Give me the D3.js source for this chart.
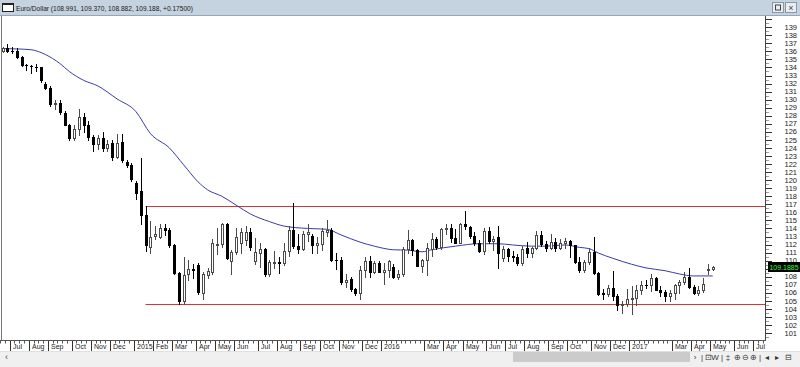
<!DOCTYPE html>
<html><head><meta charset="utf-8">
<script src="https://cdn.jsdelivr.net/npm/d3@7"></script>
<style>
body{margin:0;background:#fff;}
svg{display:block;font-family:"Liberation Sans",Arial,sans-serif;-webkit-font-smoothing:antialiased;}
</style>
</head><body>
<svg id="c" width="800" height="367"></svg>
<script>
// ---------- DATA ----------
const chartTitle = "Euro/Dollar (108.991, 109.370, 108.882, 109.188, +0.17500)";
const firstWeek = "2014-06-23";           // Monday of first weekly bar
const lastAxisDate = "2017-07-31";
const openVals = [136.05,136.45,136.10,136.05,135.35,134.30,134.20,134.10,134.00,132.00,
131.50,129.50,129.60,128.40,126.85,125.20,126.35,127.80,126.90,125.30,
124.55,125.25,123.95,124.60,122.90,124.70,122.30,121.90,119.60,118.60,
115.65,111.70,113.10,113.00,114.00,113.85,111.95,108.45,104.95,108.30,
108.95,109.50,106.00,108.25,108.60,111.90,112.10,114.55,109.90,111.10,
112.15,112.60,113.50,109.90,110.90,111.50,108.40,109.85,109.80,109.65,
111.20,113.85,111.80,111.50,113.30,113.10,111.95,112.10,113.55,113.85,
110.10,110.05,107.40,107.70,106.45,105.95,108.80,109.95,108.65,109.70,
108.60,108.80,109.20,108.00,108.30,111.40,112.60,111.30,109.35,110.05,
111.50,112.65,111.70,113.90,114.00,112.85,112.25,114.60,114.20,113.05,
112.25,111.25,113.65,112.50,113.00,110.35,111.40,110.55,110.45,109.75,
111.55,110.90,111.60,113.20,112.05,111.55,112.35,111.55,112.25,112.40,
112.00,109.85,108.85,109.85,111.10,108.45,105.95,105.90,106.55,105.55,
104.55,104.60,105.20,105.30,106.40,107.00,106.95,107.80,106.40,106.15,
105.60,106.00,106.95,107.35,108.00,106.75,105.95,106.40,108.85,108.991];
const highVals = [136.60,136.95,136.55,136.45,135.45,134.45,134.35,134.45,134.10,132.20,
131.70,130.00,130.00,128.60,127.00,126.90,128.85,128.30,127.30,125.60,
125.55,126.00,125.00,125.00,125.70,125.70,122.50,122.10,119.90,122.70,
116.80,114.90,114.30,114.60,114.50,114.10,112.10,108.65,110.40,110.05,
109.60,109.70,108.55,109.10,112.65,114.00,114.70,114.70,111.30,114.00,
114.10,114.35,114.10,112.80,112.15,111.55,110.05,111.25,110.40,112.15,
114.30,117.15,113.30,113.70,114.60,113.30,112.90,114.05,115.00,114.00,
110.90,110.50,108.30,108.00,106.60,109.30,110.45,110.60,110.00,110.00,
109.70,110.05,109.60,108.80,111.70,113.75,112.70,111.45,110.20,112.20,
113.40,112.95,114.10,114.60,114.50,113.95,114.65,116.15,114.30,113.50,
112.55,114.00,114.15,113.05,114.25,111.80,111.55,111.20,110.85,111.85,
112.30,111.70,113.65,113.70,112.50,113.25,112.80,112.75,112.80,112.55,
112.00,110.40,110.10,111.55,113.00,108.60,106.50,107.00,108.75,105.90,
105.00,106.50,106.85,107.00,107.50,107.55,108.30,107.95,106.90,106.35,
106.30,107.15,107.60,108.55,109.05,107.00,106.80,107.85,109.55,109.370];
const lowVals = [135.90,135.95,135.75,135.15,134.20,133.65,133.35,133.60,132.20,131.35,
129.20,128.90,128.20,126.85,125.00,125.00,125.60,126.00,124.95,123.65,
123.90,123.60,123.60,122.50,122.70,122.20,121.65,119.95,117.60,114.60,
111.15,111.00,112.70,112.80,113.20,111.75,108.40,104.60,104.60,107.60,
107.90,105.80,105.25,107.80,108.40,110.80,111.75,110.25,108.35,110.80,
111.00,111.90,111.35,109.55,109.15,108.10,108.15,109.10,108.50,109.50,
110.60,111.60,110.90,111.30,112.50,110.90,110.95,111.30,113.10,109.95,
109.00,107.10,106.75,106.20,105.70,105.25,108.00,108.00,108.50,108.55,
107.10,108.00,107.80,107.75,108.10,110.95,110.65,109.30,108.55,108.25,
110.60,111.45,111.45,113.30,112.35,112.15,112.15,113.90,112.85,112.00,
111.05,110.85,112.20,111.30,109.10,109.90,109.95,110.00,109.50,109.50,
110.45,110.45,111.50,111.85,111.25,111.45,111.20,111.50,111.60,110.45,
109.65,108.60,108.55,109.60,108.40,105.70,105.20,105.65,105.10,103.85,
103.50,104.40,103.40,104.55,105.90,106.60,106.20,106.35,105.60,104.95,
104.95,105.25,106.00,107.05,106.55,105.80,105.70,106.05,108.35,108.882];
const closeVals = [136.45,136.10,136.05,135.30,134.35,134.25,134.15,134.00,132.45,131.45,
129.50,129.60,128.45,126.90,125.20,126.30,127.85,126.90,125.30,124.55,
125.25,123.95,124.55,122.90,124.60,122.50,121.90,120.10,118.45,115.65,
112.00,113.00,113.30,114.00,113.85,111.95,108.45,104.95,108.25,108.95,
108.80,106.05,108.30,108.70,112.15,112.10,114.55,110.30,111.10,113.00,
113.60,113.50,111.65,111.10,111.50,108.40,109.85,109.85,109.70,111.20,
113.85,111.80,111.50,113.35,113.60,111.95,112.15,113.65,113.85,110.10,
110.05,107.40,107.65,106.45,105.95,108.80,109.95,108.65,109.70,108.60,
108.90,109.90,107.95,108.30,111.40,112.60,111.30,109.35,110.10,111.55,
112.65,111.70,113.90,114.00,112.85,112.25,114.55,114.25,113.05,112.25,
111.25,113.65,112.50,112.75,110.95,111.40,110.60,110.45,109.75,111.50,
110.90,111.60,113.20,112.05,111.55,112.35,111.55,112.25,112.40,112.00,
109.85,108.85,109.85,111.10,108.45,105.90,105.90,106.55,105.55,104.55,
104.60,105.20,105.30,106.40,107.00,106.95,107.80,106.40,106.15,105.60,
106.00,106.95,107.35,108.00,106.75,105.95,106.35,107.15,108.99,109.188];
// moving average (blue) read at these bar indices
const maIndex  = [0,3,6,9,12,14,17,20,24,28,31,35,38,41,43,46,49,52,56,59,64,68,71,75,78,82,85,88,90,95,100,104,107,111,114,118,121,123,125,128,132,135,139,142,145,149];
const maValues = [136.35,136.3,136.2,135.6,134.5,133.5,132.4,131.7,130.1,128.5,125.8,124.0,121.9,119.8,118.8,118.0,116.9,115.8,114.85,114.3,114.0,113.9,113.2,112.3,111.8,111.35,111.3,111.1,111.35,111.8,112.1,112.1,111.95,111.8,111.8,111.95,111.65,111.5,110.95,110.3,109.55,109.1,108.75,108.35,108.1,108.1];
// horizontal support / resistance lines
const levelValues = [116.72, 104.66];
const levelStartIndex = 30;
const lastPriceLabel = "109.1885";
const lastPrice = 109.1885;
// axes: labelled price ticks (109 sits under the last-price marker)
const yTickValues = d3.range(101, 140).filter(v => v !== 109);
const monthTickMonths = ["2014-07","2014-08","2014-09","2014-10","2014-11","2014-12","2015-01","2015-02","2015-03","2015-04","2015-05","2015-06","2015-07","2015-08","2015-09","2015-10","2015-11","2015-12","2016-01","2016-03","2016-04","2016-05","2016-06","2016-07","2016-08","2016-09","2016-10","2016-11","2016-12","2017-01","2017-03","2017-04","2017-05","2017-06","2017-07"];
const monthTickLabels = ["Jul","Aug","Sep","Oct","Nov","Dec","2015","Feb","Mar","Apr","May","Jun","Jul","Aug","Sep","Oct","Nov","Dec","2016","Mar","Apr","May","Jun","Jul","Aug","Sep","Oct","Nov","Dec","2017","Mar","Apr","May","Jun","Jul"];

// ---------- SCALES ----------
const parse = d3.utcParse("%Y-%m-%d");
const t0 = parse(firstWeek);
const weeks = d3.utcMonday.range(t0, d3.utcMonday.offset(t0, openVals.length));
const x = d3.scaleUtc().domain([t0, parse(lastAxisDate)]).range([0.2, 772.3]);
const y = d3.scaleLinear().domain([100, 140]).range([341.15, 19.15]);
const cx = d => x(d3.utcHour.offset(d, 84));   // centre of weekly bar

const data = weeks.map((d, i) => ({d, o: openVals[i], h: highVals[i], l: lowVals[i], c: closeVals[i]}));

const svg = d3.select("#c");
svg.append("rect").attr("width", 800).attr("height", 367).attr("fill", "#fff");

// ---------- TITLE BAR ----------
svg.append("rect").attr("x",0).attr("y",0).attr("width",800).attr("height",15).attr("fill","#c5d2df");
svg.append("line").attr("x1",0).attr("x2",800).attr("y1",15.5).attr("y2",15.5).attr("stroke","#97a6b6");
svg.append("rect").attr("x",2.5).attr("y",3.5).attr("width",11).attr("height",8).attr("fill","#fff").attr("stroke","#222");
svg.append("rect").attr("x",2.5).attr("y",3.5).attr("width",11).attr("height",1.5).attr("fill","#222");
svg.append("text").attr("x",16).attr("y",10.5).attr("font-size",7).attr("fill","#1a1a1a")
  .attr("textLength",177).attr("lengthAdjust","spacingAndGlyphs").text(chartTitle);
[772.5, 785.5].forEach((bx, k) => {
  svg.append("rect").attr("x",bx).attr("y",2.5).attr("width",11).attr("height",10).attr("fill","#e9edf1").attr("stroke","#8b97a5");
  if (k === 0) svg.append("rect").attr("x",bx+3).attr("y",5).attr("width",5).attr("height",5).attr("fill","none").attr("stroke","#444");
  else svg.append("text").attr("x",bx+5.5).attr("y",10.5).attr("text-anchor","middle").attr("font-size",9).attr("fill","#444").text("×");
});

// ---------- PLOT ----------
svg.append("defs").append("clipPath").attr("id","plotclip")
  .append("rect").attr("x",2).attr("y",16).attr("width",763).attr("height",324);
const plot = svg.append("g").attr("clip-path","url(#plotclip)");

// resistance / support lines
levelValues.forEach(v => {
  const yy = Math.round(y(v) / 2) * 2 + 0.5;
  plot.append("line").attr("x1", cx(weeks[levelStartIndex])).attr("x2", 765)
    .attr("y1", yy).attr("y2", yy)
    .attr("stroke", "#e03030").attr("stroke-width", 1);
});

// moving average
const maLine = d3.line().x((v, i) => cx(weeks[maIndex[i]])).y(v => y(v)).curve(d3.curveMonotoneX);
plot.append("path").attr("d", maLine(maValues)).attr("fill","none").attr("stroke","#3a3aa8").attr("stroke-width",1);

// candles
const cg = plot.append("g");
data.forEach(k => {
  const px = Math.round(cx(k.d));
  const up = k.c >= k.o;
  const col = up ? "#4a4a4a" : "#000";
  cg.append("line").attr("x1", px + 0.5).attr("x2", px + 0.5)
    .attr("y1", Math.round(y(k.h))).attr("y2", Math.round(y(k.l)) + 1)
    .attr("stroke", col).attr("stroke-width", 1);
  const top = Math.round(y(Math.max(k.o, k.c)));
  const bot = Math.round(y(Math.min(k.o, k.c)));
  if (up) {
    const hgt = Math.max(1, bot - top);
    cg.append("rect").attr("x", px - 0.5).attr("y", top + 0.5).attr("width", 2).attr("height", hgt)
      .attr("fill", "#fff").attr("stroke", col).attr("stroke-width", 1);
  } else {
    cg.append("rect").attr("x", px - 1).attr("y", top).attr("width", 3).attr("height", Math.max(1, bot - top + 1))
      .attr("fill", "#000");
  }
});

// left border
svg.append("line").attr("x1",1.5).attr("x2",1.5).attr("y1",16).attr("y2",341).attr("stroke","#777");

// ---------- RIGHT AXIS ----------
svg.append("line").attr("x1",765.5).attr("x2",765.5).attr("y1",16).attr("y2",341).attr("stroke","#444");
const ya = svg.append("g");
d3.range(100.5, 140.5, 1).forEach(v => {
  const yy = Math.round(y(v)) + 0.5;
  ya.append("line").attr("x1",766).attr("x2",769).attr("y1",yy).attr("y2",yy).attr("stroke","#999");
});
d3.range(101, 141).forEach(v => {
  const yy = Math.round(y(v)) + 0.5;
  ya.append("line").attr("x1",766).attr("x2",772).attr("y1",yy).attr("y2",yy).attr("stroke","#333");
});
yTickValues.forEach(v => {
  ya.append("text").attr("x",797).attr("y",y(v)+2.6).attr("text-anchor","end")
    .attr("font-size",7.5).attr("fill","#222").text(v);
});
// last price marker (covers lower part of the 110 label, as in the original)
svg.append("rect").attr("x",768).attr("y",262).attr("width",32).attr("height",10).attr("fill","#000");
svg.append("text").attr("x",784).attr("y",270).attr("text-anchor","middle").attr("font-size",7)
  .attr("fill","#39ff39").text(lastPriceLabel);

// ---------- BOTTOM AXIS ----------
svg.append("line").attr("x1",0).attr("x2",766).attr("y1",340.5).attr("y2",340.5).attr("stroke","#555");
const xa = svg.append("g");
const allMondays = d3.utcMonday.range(t0, parse(lastAxisDate));
allMondays.forEach(d => {
  const xx = Math.round(x(d)) + 0.5;
  if (xx > 768) return;
  xa.append("line").attr("x1",xx).attr("x2",xx).attr("y1",341).attr("y2",343.5).attr("stroke","#555");
});
const monthParse = d3.utcParse("%Y-%m");
const lblG = svg.append("g");
monthTickMonths.forEach((m, i) => {
  const d = d3.utcMonday.ceil(monthParse(m));
  const xx = Math.round(x(d)) + 0.5;
  const t = lblG.append("text").attr("x", Math.round(xx) + 2).attr("y", 349).attr("font-size", 7).attr("fill","#222").text(monthTickLabels[i]);
  const w = t.node().getComputedTextLength();
  xa.append("rect").attr("x", xx + 1).attr("y", 344).attr("width", w + 2).attr("height", 7).attr("fill","#fff");
  xa.append("line").attr("x1",xx).attr("x2",xx).attr("y1",341).attr("y2",351).attr("stroke","#333");
});

// ---------- SCROLL BAR STRIP ----------
svg.append("rect").attr("x",0).attr("y",351).attr("width",800).attr("height",16).attr("fill","#f0f0f0");
svg.append("line").attr("x1",0).attr("x2",800).attr("y1",351.5).attr("y2",351.5).attr("stroke","#e0e0e0");
svg.append("rect").attr("x",513).attr("y",352).attr("width",177).attr("height",10).attr("fill","#cbcbcb");
svg.append("text").attr("x",5).attr("y",360).attr("font-size",9).attr("fill","#444").text("‹");
const icons = [["›",695],["|",702],["⊡",708],["W",715],["|",722],["‡",728],["⊕",737],["⊖",745],["⊕",753],["|",760],["◂",767],["▸",777],["⊟",788]];
icons.forEach(([g, ix]) => {
  svg.append("text").attr("x",ix).attr("y",360).attr("text-anchor","middle").attr("font-size",8).attr("fill","#333").text(g);
});
</script>
</body></html>
